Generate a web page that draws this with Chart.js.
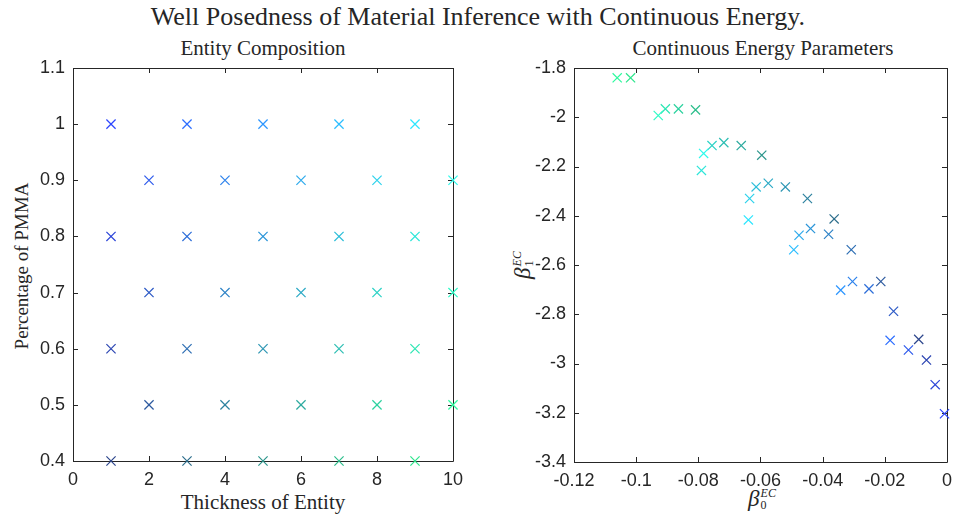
<!DOCTYPE html>
<html>
<head>
<meta charset="utf-8">
<script src="https://cdn.jsdelivr.net/npm/chart.js@4"></script>
<style>
  body { margin: 0; width: 960px; height: 519px; position: relative; background: #fff; overflow: hidden; }
  canvas { position: absolute; top: 0; }
  .lbl { position: absolute; font-family: "Liberation Serif", "DejaVu Serif", serif; color: #262626;
         white-space: nowrap; transform: translate(-50%, -50%); }
  .rot { transform: translate(-50%, -50%) rotate(-90deg); }
  .sym { display: inline-flex; align-items: center; }
  .beta { font-style: italic; font-size: 23px; line-height: 26px; }
  .idx { display: inline-flex; flex-direction: column; font-size: 12px; line-height: 12px; margin-left: 1px; }
</style>
</head>
<body>
<div class="lbl" style="left:478px;top:17px;font-size:26px">Well Posedness of Material Inference with Continuous Energy.</div>
<div class="lbl" style="left:263px;top:48px;font-size:21px">Entity Composition</div>
<div class="lbl" style="left:763px;top:48px;font-size:21px">Continuous Energy Parameters</div>
<div class="lbl rot" style="left:22px;top:266px;font-size:19px">Percentage of PMMA</div>
<div class="lbl" style="left:263px;top:502px;font-size:21px">Thickness of Entity</div>
<div class="lbl rot" style="left:523px;top:265px"><span class="sym"><span class="beta">β</span><span class="idx"><i>EC</i><span>1</span></span></span></div>
<div class="lbl" style="left:762px;top:499px"><span class="sym"><span class="beta">β</span><span class="idx"><i>EC</i><span>0</span></span></span></div>
<canvas id="compChart" width="480" height="519" style="left:0"></canvas>
<canvas id="energyChart" width="480" height="519" style="left:480px"></canvas>
<script>
// samples: thickness / PMMA fraction and the fitted continuous energy parameters
const thickness = [1, 1, 1, 1, 2, 2, 2, 3, 3, 3, 3, 4, 4, 4, 5, 5, 5, 5, 6, 6, 6,
                   7, 7, 7, 7, 8, 8, 8, 9, 9, 9, 9, 10, 10, 10];
const pmma = [1.0, 0.8, 0.6, 0.4, 0.9, 0.7, 0.5, 1.0, 0.8, 0.6, 0.4, 0.9, 0.7, 0.5,
              1.0, 0.8, 0.6, 0.4, 0.9, 0.7, 0.5, 1.0, 0.8, 0.6, 0.4, 0.9, 0.7, 0.5,
              1.0, 0.8, 0.6, 0.4, 0.9, 0.7, 0.5];
const beta0 = [-0.0008, -0.0038, -0.0066, -0.0091, -0.0124, -0.0172, -0.0213,
               -0.0183, -0.0251, -0.0308, -0.0363, -0.0304, -0.0381, -0.0449,
               -0.0342, -0.0439, -0.0520, -0.0596, -0.0476, -0.0575, -0.0662,
               -0.0493, -0.0614, -0.0718, -0.0809, -0.0635, -0.0756, -0.0864,
               -0.0639, -0.0790, -0.0906, -0.1018, -0.0783, -0.0929, -0.1061];
const beta1 = [-3.204, -3.086, -2.986, -2.902, -2.945, -2.788, -2.667,
               -2.906, -2.697, -2.538, -2.413, -2.667, -2.475, -2.330,
               -2.702, -2.452, -2.283, -2.154, -2.479, -2.268, -2.115,
               -2.538, -2.283, -2.103, -1.970, -2.330, -2.115, -1.966,
               -2.417, -2.216, -1.966, -1.840, -2.147, -1.993, -1.840];

const compXTicks = [0, 2, 4, 6, 8, 10];
const compYTicks = [0.4, 0.5, 0.6, 0.7, 0.8, 0.9, 1, 1.1];
const energyXTicks = [-0.12, -0.1, -0.08, -0.06, -0.04, -0.02, 0];
const energyYTicks = [-3.4, -3.2, -3, -2.8, -2.6, -2.4, -2.2, -2, -1.8];

// colour each sample by thickness (green) and PMMA fraction (blue)
const colors = thickness.map((t, i) =>
  'rgb(45,' + Math.round(50 + 20 * t) + ',' + Math.round(255 * (0.25 + 0.75 * pmma[i])) + ')');

const axisColor = '#262626';
const tickFont = { family: 'Liberation Sans, Arial, sans-serif', size: 18 };

// matlab style box with inward ticks on all four sides
const boxTicks = {
  id: 'boxTicks',
  beforeDatasetsDraw(chart) {
    const { ctx, chartArea: a, scales: { x, y } } = chart;
    const len = 5;
    ctx.save();
    ctx.strokeStyle = axisColor;
    ctx.lineWidth = 1;
    ctx.beginPath();
    ctx.rect(Math.round(a.left) + 0.5, Math.round(a.top) + 0.5,
             Math.round(a.right - a.left), Math.round(a.bottom - a.top));
    x.ticks.forEach(tk => {
      const px = Math.round(x.getPixelForValue(tk.value)) + 0.5;
      ctx.moveTo(px, a.bottom); ctx.lineTo(px, a.bottom - len);
      ctx.moveTo(px, a.top); ctx.lineTo(px, a.top + len);
    });
    y.ticks.forEach(tk => {
      const py = Math.round(y.getPixelForValue(tk.value)) + 0.5;
      ctx.moveTo(a.left, py); ctx.lineTo(a.left + len, py);
      ctx.moveTo(a.right, py); ctx.lineTo(a.right - len, py);
    });
    ctx.stroke();
    ctx.restore();
  }
};

function makeScale(min, max, tickVals, size, isX) {
  return {
    type: 'linear',
    min: min,
    max: max,
    grid: { display: false, drawTicks: false },
    border: { display: false },
    ticks: {
      color: axisColor, font: tickFont, padding: 8, maxRotation: 0, autoSkip: false,
      callback: v => String(+v.toFixed(4))
    },
    afterBuildTicks: scale => { scale.ticks = tickVals.map(v => ({ value: v })); },
    afterFit: scale => { if (isX) scale.height = size; else scale.width = size; }
  };
}

function scatterChart(id, xs, ys, xScale, yScale, padding) {
  return new Chart(document.getElementById(id), {
    type: 'scatter',
    data: {
      datasets: [{
        data: xs.map((v, i) => ({ x: v, y: ys[i] })),
        pointStyle: 'crossRot',
        pointRadius: 6.5,
        pointHoverRadius: 6.5,
        pointBorderWidth: 1.2,
        pointBorderColor: colors,
        pointBackgroundColor: colors,
        clip: false
      }]
    },
    options: {
      responsive: false,
      animation: false,
      layout: { padding: padding },
      plugins: { legend: { display: false }, tooltip: { enabled: false } },
      scales: { x: xScale, y: yScale }
    },
    plugins: [boxTicks]
  });
}

scatterChart('compChart', thickness, pmma,
  makeScale(0, 10, compXTicks, 58, true),
  makeScale(0.4, 1.1, compYTicks, 73, false),
  { top: 68, right: 27, bottom: 0, left: 0 });

scatterChart('energyChart', beta0, beta1,
  makeScale(-0.12, 0, energyXTicks, 57, true),
  makeScale(-3.4, -1.8, energyYTicks, 94, false),
  { top: 68, right: 8, bottom: 0, left: 0 });
</script>
</body>
</html>
